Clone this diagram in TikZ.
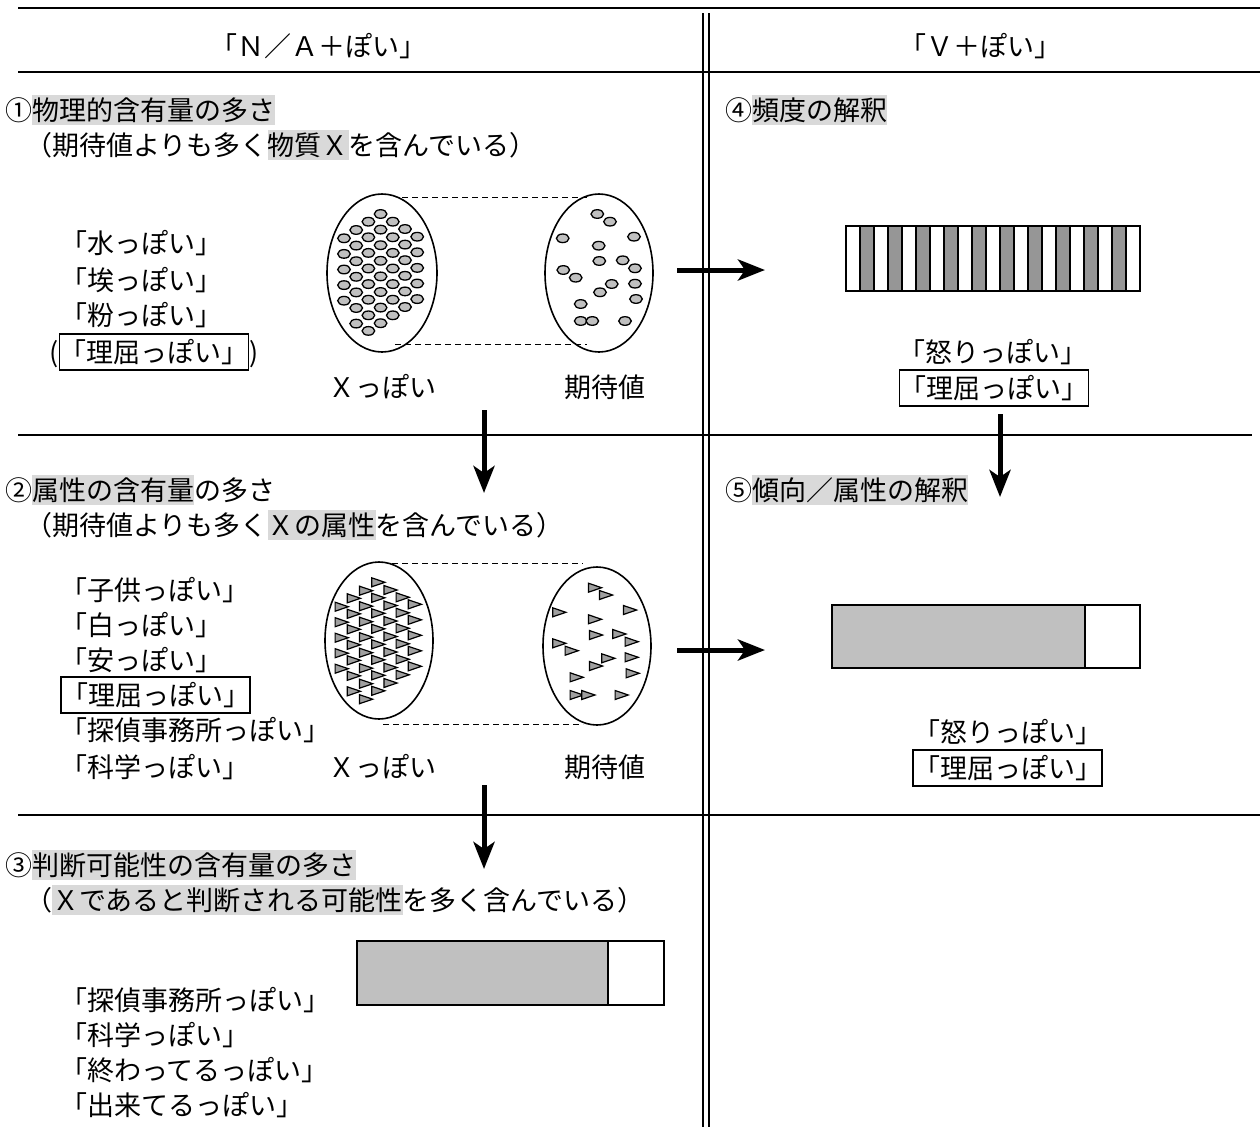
\documentclass[tikz,border=0pt]{standalone}
\usepackage{fontspec}
\setmainfont{Noto Sans CJK JP}
\usetikzlibrary{arrows.meta}
\definecolor{hlgray}{HTML}{D9D9D9}
\definecolor{dotgray}{HTML}{C0C0C0}
\definecolor{trigray}{HTML}{A0A0A0}
\definecolor{stripegray}{HTML}{969696}
\definecolor{bargray}{HTML}{C0C0C0}
\newcommand\hlt[1]{{\setlength{\fboxsep}{0pt}\colorbox{hlgray}{\rule[-4.9pt]{0pt}{30.5pt}#1}}}
\begin{document}
\begin{tikzpicture}[x=1pt,y=-1pt,
  txt/.style={font=\fontsize{27}{32}\selectfont, inner sep=0pt, anchor=west, text height=25.6pt, text depth=4.9pt},
  ctxt/.style={txt, anchor=center},
  framed/.style={ctxt, draw, line width=1.5pt, minimum width=188pt, minimum height=36pt},
  rule/.style={line width=1.5pt},
  vrule/.style={line width=2pt},
  bigarrow/.style={line width=5pt, -{Stealth[length=27pt,width=21pt,inset=7pt]}},
  blob/.style={line width=1.6pt},
  dot/.style={draw=black, line width=1.3pt, fill=dotgray},
  tri/.style={draw=black, line width=1.2pt, fill=trigray, line join=miter},
  dashln/.style={line width=1pt, dash pattern=on 6pt off 4pt}
]
\useasboundingbox (0,0) rectangle (1260,1127);

% ---- frame lines ----
\draw[rule] (18,8) -- (1260,8);
\draw[rule] (18,72) -- (1260,72);
\draw[rule] (18,435) -- (1252,435);
\draw[rule] (18,815) -- (1260,815);
\draw[vrule] (703,13) -- (703,1127);
\draw[vrule] (709,13) -- (709,1127);

% ---- headers ----
\node[ctxt] (h1) at (318,46) {「Ｎ／Ａ＋ぽい」};
\node[ctxt] (h2) at (980,46) {「Ｖ＋ぽい」};

% ---- section 1 ----
\node[txt] (s1a) at (5,110) {①\hlt{物理的含有量の多さ}};
\node[txt] (s1b) at (25,145) {（期待値よりも多く\hlt{物質Ｘ}を含んでいる）};
\node[txt] (l1a) at (60,243) {「水っぽい」};
\node[txt] (l1b) at (60,280) {「埃っぽい」};
\node[txt] (l1c) at (60,315) {「粉っぽい」};
\node[ctxt, draw, line width=1.5pt, minimum width=162pt, minimum height=36pt] (l1d) at (154,352) {「理屈っぽい」};
\node[txt, anchor=east] (l1p) at (l1d.west) {(};
\node[txt] (l1q) at (l1d.east) {)};
\node[ctxt] (x1) at (382,387) {Ｘっぽい};
\node[ctxt] (e1) at (605,387) {期待値};

\draw[blob] (382,273) ellipse [x radius=55, y radius=79];
\draw[blob] (599,273) ellipse [x radius=54, y radius=79];
\draw[dashln] (402,197) -- (587,197);
\draw[dashln] (395,344) -- (587,344);
\foreach \c/\ys/\n in {0/238.3/5,1/230/7,2/221.7/8,3/214/8,4/221.7/7,5/229/6,6/236.7/5}{
  \foreach \k in {1,...,\n}{
    \draw[dot] ({344+12.2*\c},{\ys+15.6*(\k-1)}) ellipse [x radius=6.3, y radius=4.3];
  }
}
\foreach \px/\py in {597.3/214,610/221.7,562.7/238.3,634/236.7,598.7/245.7,599.3/261,622.7/260.3,635/268.3,563.3/270,575.7/277.7,611.7/284,635/283.7,600/292.3,636/299,580.7/304,580.7/321,592.3/321,625/321}{
  \draw[dot] (\px,\py) ellipse [x radius=6.3, y radius=4.3];
}

% ---- section 2 ----
\node[txt] (s2a) at (5,490) {②\hlt{属性の含有量}の多さ};
\node[txt] (s2b) at (25,525) {（期待値よりも多く\hlt{Ｘの属性}を含んでいる）};
\node[txt] (l2a) at (60,590) {「子供っぽい」};
\node[txt] (l2b) at (60,625) {「白っぽい」};
\node[txt] (l2c) at (60,660) {「安っぽい」};
\node[framed, minimum width=185pt] (l2d) at (155.5,695) {「理屈っぽい」};
\node[txt] (l2e) at (60,730) {「探偵事務所っぽい」};
\node[txt] (l2f) at (60,767) {「科学っぽい」};
\node[ctxt] (x2) at (382,767) {Ｘっぽい};
\node[ctxt] (e2) at (605,767) {期待値};

\draw[blob] (379,640.5) ellipse [x radius=54, y radius=78.5];
\draw[blob] (597,646) ellipse [x radius=54, y radius=79];
\draw[dashln] (392,563) -- (583,563);
\draw[dashln] (383,724) -- (583,724);
\foreach \c/\ys/\n in {0/606.7/5,1/598.3/7,2/590.7/8,3/582.3/8,4/590/7,5/597.3/6,6/604.3/5}{
  \foreach \k in {1,...,\n}{
    \draw[tri] ({341.7+12.2*\c-6.6},{\ys+15.5*(\k-1)-4.5}) -- ({341.7+12.2*\c+6.6},{\ys+15.5*(\k-1)}) -- ({341.7+12.2*\c-6.6},{\ys+15.5*(\k-1)+4.5}) -- cycle;
  }
}
\foreach \px/\py in {595/587.7,606/595,559.3/612.3,630/610,595/619.3,596/635,619.3/634,631.7/641.7,559.3/643.3,571.7/650.7,608.3/658.3,631.7/657.3,596/666,632.7/673.3,576.7/677.3,576.7/695,588.3/695,621.7/695}{
  \draw[tri] ({\px-6.6},{\py-4.5}) -- ({\px+6.6},{\py}) -- ({\px-6.6},{\py+4.5}) -- cycle;
}

% ---- section 3 ----
\node[txt] (s3a) at (5,865) {③\hlt{判断可能性の含有量の多さ}};
\node[txt] (s3b) at (25,900) {（\hlt{Ｘであると判断される可能性}を多く含んでいる）};
\node[txt] (l3a) at (60,1000) {「探偵事務所っぽい」};
\node[txt] (l3b) at (60,1035) {「科学っぽい」};
\node[txt] (l3c) at (60,1070) {「終わってるっぽい」};
\node[txt] (l3d) at (60,1105) {「出来てるっぽい」};
\draw[rule, fill=white] (357,941) rectangle (664,1005);
\draw[rule, fill=bargray] (357,941) rectangle (608,1005);

% ---- section 4 ----
\node[txt] (s4a) at (725,110) {④\hlt{頻度の解釈}};
\foreach \i in {0,...,20}{
  \pgfmathtruncatemacro{\odd}{mod(\i,2)}
  \ifnum\odd=1
    \draw[line width=1.5pt, fill=stripegray] ({846+14*\i},226) rectangle ({846+14*(\i+1)},291);
  \else
    \draw[line width=1.5pt, fill=white] ({846+14*\i},226) rectangle ({846+14*(\i+1)},291);
  \fi
}
\node[ctxt] (r4a) at (993,352) {「怒りっぽい」};
\node[framed] (r4b) at (994,388) {「理屈っぽい」};

% ---- section 5 ----
\node[txt] (s5a) at (725,490) {⑤\hlt{傾向／属性の解釈}};
\draw[rule, fill=white] (832,605) rectangle (1140,668);
\draw[rule, fill=bargray] (832,605) rectangle (1085,668);
\node[ctxt] (r5a) at (1008,732) {「怒りっぽい」};
\node[framed] (r5b) at (1007.5,768) {「理屈っぽい」};

% ---- arrows ----
\coordinate (a1s) at (677,270); \coordinate (a1e) at (765,270);
\coordinate (a2s) at (677,650); \coordinate (a2e) at (765,650);
\coordinate (d1s) at (484,410); \coordinate (d1e) at (484,493);
\coordinate (d2s) at (484,785); \coordinate (d2e) at (484,869);
\coordinate (d3s) at (1000,414); \coordinate (d3e) at (1000,497);
\draw[bigarrow] (a1s) -- (a1e);
\draw[bigarrow] (a2s) -- (a2e);
\draw[bigarrow] (d1s) -- (d1e);
\draw[bigarrow] (d2s) -- (d2e);
\draw[bigarrow] (d3s) -- (d3e);
\end{tikzpicture}
\end{document}
